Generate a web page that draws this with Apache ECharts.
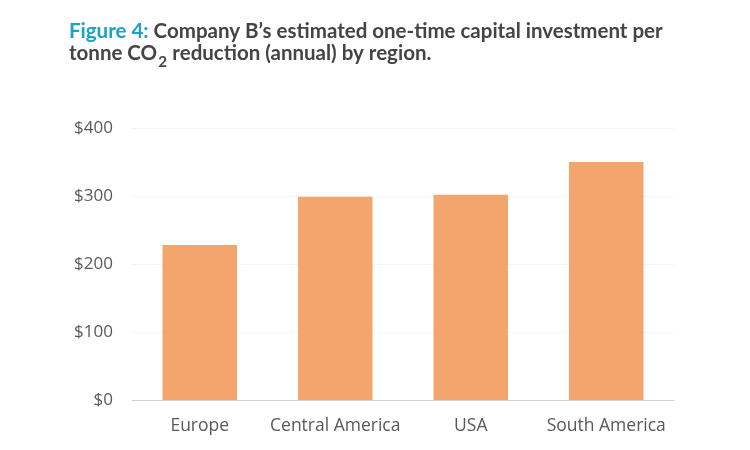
<!DOCTYPE html>
<html>
<head>
<meta charset="utf-8">
<script src="https://cdn.jsdelivr.net/npm/echarts@6/dist/echarts.min.js"></script>
<style>html,body{margin:0;padding:0;background:#fff;}#c{width:750px;height:450px;}</style>
</head>
<body>
<div id="c"></div>
<script>
const categories = ['Europe', 'Central America', 'USA', 'South America'];
const values = [228, 299, 302, 350];
const yTicks = [0, 100, 200, 300, 400];

const titleFont = 'Lato';
const titleSize = 20.5;
const subSize = 15;
const titleLeft = 69;
const titleTop = 21;
const titleLH = 21.5;

// measure width of text before the subscript so the subscript can sit right after it
const cv = document.createElement('canvas').getContext('2d');
cv.font = 'bold ' + titleSize + 'px ' + titleFont;
const preSubWidth = cv.measureText('tonne CO').width;
cv.font = 'bold ' + subSize + 'px ' + titleFont;
const subWidth = cv.measureText('2').width;

const chart = echarts.init(document.getElementById('c'));
chart.setOption({
  backgroundColor: '#ffffff',
  title: [{
    left: titleLeft,
    top: titleTop,
    padding: 0,
    text: '{a|Figure 4:} {b|Company B\u2019s estimated one-time capital investment per}\n{b|tonne CO}{sp|}{b| reduction (annual) by region.}',
    textStyle: {
      rich: {
        a: { fontFamily: titleFont, fontSize: titleSize, fontWeight: 'bold', color: '#1ba2c9', lineHeight: titleLH },
        b: { fontFamily: titleFont, fontSize: titleSize, fontWeight: 'bold', color: '#444444', lineHeight: titleLH },
        sp: { width: subWidth + 1.5, lineHeight: titleLH }
      }
    }
  }, {
    left: titleLeft + preSubWidth + 1,
    top: titleTop + titleLH + 12,
    text: '2',
    padding: 0,
    textStyle: { fontFamily: titleFont, fontSize: subSize, fontWeight: 'bold', color: '#444444', lineHeight: subSize }
  }],
  grid: { left: 132, right: 76, top: 128, bottom: 50, containLabel: false },
  xAxis: {
    type: 'category',
    data: categories,
    axisLine: { lineStyle: { color: '#d0d0d0', width: 1 } },
    axisTick: { show: false },
    axisLabel: { interval: 0, fontFamily: 'Open Sans', fontSize: 17.5, color: '#595959', margin: 17 }
  },
  yAxis: {
    type: 'value',
    min: yTicks[0],
    max: yTicks[yTicks.length - 1],
    interval: 100,
    axisLine: { show: false },
    axisTick: { show: false },
    splitLine: { lineStyle: { color: '#f6f6f6' } },
    axisLabel: { fontFamily: 'Open Sans', fontSize: 17, color: '#595959', margin: 19, formatter: v => '$' + v }
  },
  series: [{
    type: 'bar',
    data: values,
    barWidth: '55%',
    itemStyle: { color: '#f4a56d' },
    animation: false
  }],
  animation: false
});
</script>
</body>
</html>
